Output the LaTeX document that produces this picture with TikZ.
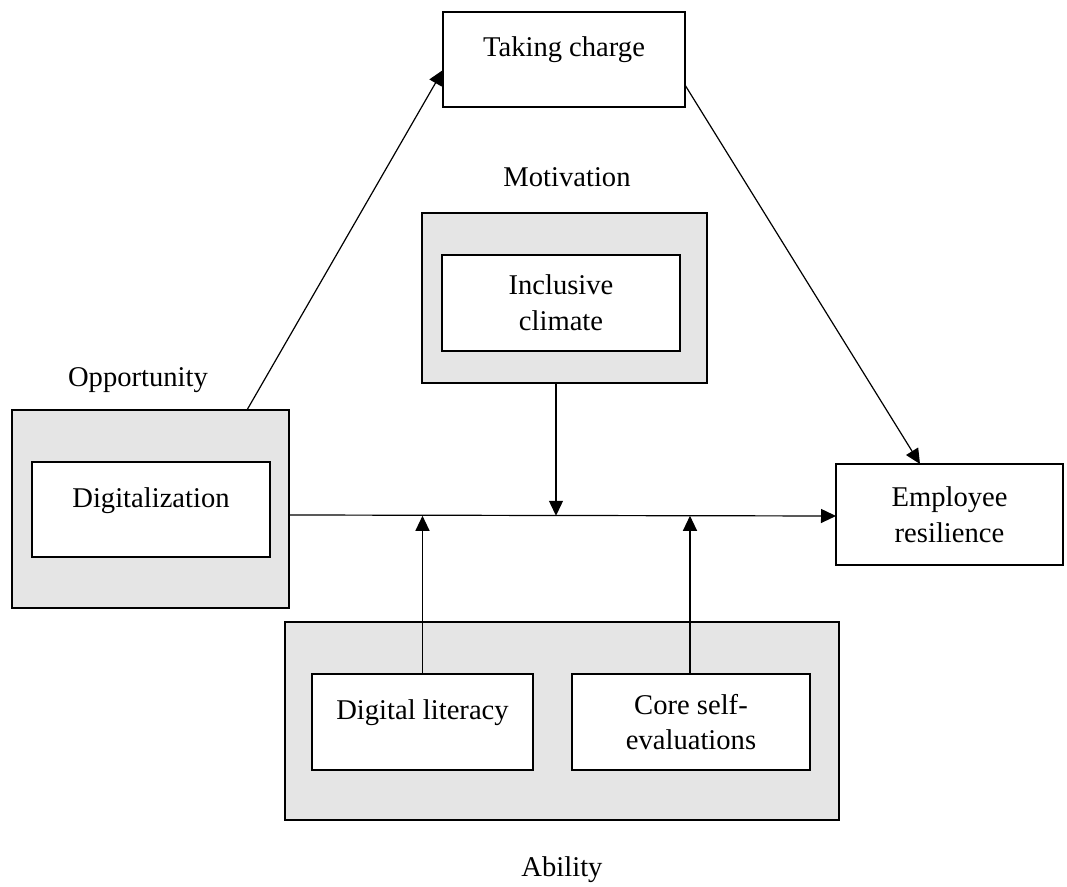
\documentclass[tikz,border=0pt]{standalone}
\usepackage{fontspec}
\setmainfont{Liberation Serif}
\usetikzlibrary{arrows.meta,calc}
\definecolor{boxgrey}{HTML}{E5E5E5}
\tikzset{
  frame/.style={draw=black, line width=1.35pt, inner sep=0pt, outer sep=0pt},
  greybox/.style={frame, fill=boxgrey},
  whitebox/.style={frame, fill=white, align=center,
    font=\fontsize{14.3}{17.8}\selectfont},
  toptext/.style={text height=10pt, text depth=12pt},
  lbl/.style={font=\fontsize{14.3}{17.8}\selectfont, anchor=base, inner sep=0pt},
  arr/.style={line width=0.6pt, -{Triangle[length=7.5pt,width=7pt]}},
}
\begin{document}
\begin{tikzpicture}[x=0.5pt,y=-0.5pt]
\useasboundingbox (0,0) rectangle (1067,887);

% Taking charge
\node[whitebox, minimum width=121pt, minimum height=47.5pt, text height=10pt, text depth=12.5pt] (tc) at (564,59.5) {Taking charge};

% Motivation
\node[lbl] (motl) at (567,187) {Motivation};
\node[greybox, minimum width=142.5pt, minimum height=85pt] (mot) at (564.5,298) {};
\node[whitebox, minimum width=119pt, minimum height=48pt] (inc) at (561,303) {Inclusive\\climate};

% Opportunity
\node[lbl] (oppl) at (138,387) {Opportunity};
\node[greybox, minimum width=138.5pt, minimum height=99pt] (opp) at (150.5,509) {};
\node[whitebox, minimum width=119pt, minimum height=47.5pt, text height=10pt, text depth=11.5pt] (dig) at (151,509.5) {Digitalization};

% Employee resilience
\node[whitebox, minimum width=113.5pt, minimum height=50.5pt] (emp) at (949.5,514.5) {Employee\\resilience};

% Ability
\node[greybox, minimum width=277pt, minimum height=99pt] (abl) at (562,721) {};
\node[whitebox, minimum width=110.5pt, minimum height=48pt, text height=10pt, text depth=12pt] (dl) at (422.5,722) {Digital literacy};
\node[whitebox, minimum width=119pt, minimum height=48pt] (cse) at (691,722) {Core self-\\evaluations};
\node[lbl] (abll) at (562,877) {Ability};

% connectors
\coordinate (lineY) at (0,515.8);
\draw[arr] ([xshift=48.25pt]opp.north) -- ([yshift=-5.25pt]tc.west);
\draw[arr] ([yshift=-12.75pt]tc.east) -- ([xshift=-14.75pt]emp.north);
\draw[arr] ([yshift=-3pt]opp.east) -- ([yshift=-0.75pt]emp.west);
\draw[arr] ([xshift=-4.25pt]mot.south) -- ([xshift=-4.25pt]mot.south |- lineY);
\draw[arr] (dl.north) -- (dl.north |- lineY);
\draw[arr] ([xshift=-0.5pt]cse.north) -- ([xshift=-0.5pt]cse.north |- lineY);
\end{tikzpicture}
\end{document}
